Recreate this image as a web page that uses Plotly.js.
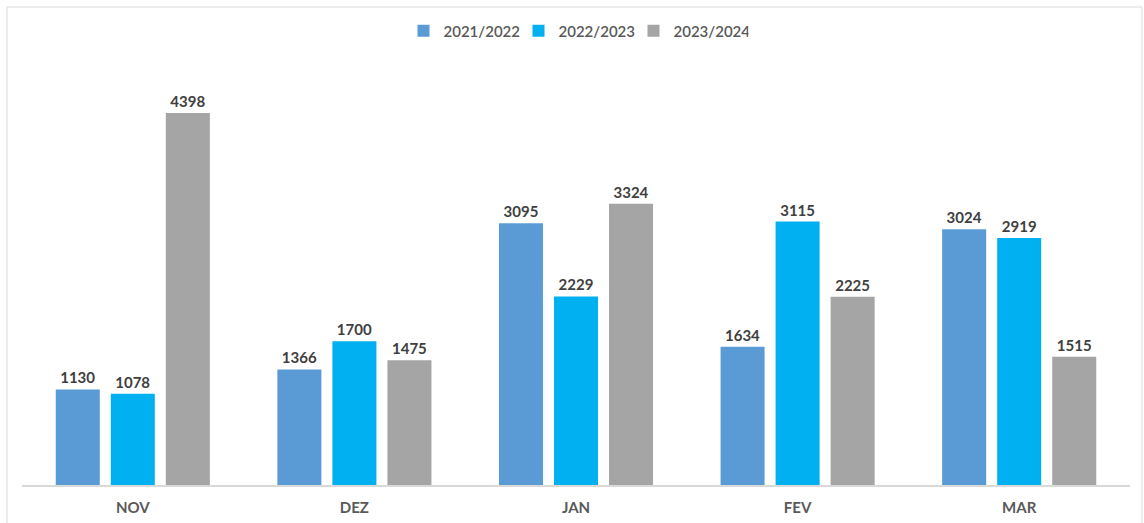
<!DOCTYPE html>
<html>
<head>
<meta charset="utf-8">
<script src="https://cdn.plot.ly/plotly-3.0.1.min.js"></script>
<style>
html,body{margin:0;padding:0;background:#fff;}
#chart{width:1144px;height:523px;}
</style>
</head>
<body>
<div id="chart"></div>
<script>
const months = ["NOV", "DEZ", "JAN", "FEV", "MAR"];
const seriesNames = ["2021/2022", "2022/2023", "2023/2024"];
const s2122 = [1130, 1366, 3095, 1634, 3024];
const s2223 = [1078, 1700, 2229, 3115, 2919];
const s2324 = [4398, 1475, 3324, 2225, 1515];
const colors = ["#5B9BD5", "#00B0F0", "#A5A5A5"];

const FONT = "Lato, 'Open Sans', 'Liberation Sans', sans-serif";
const allSeries = [s2122, s2223, s2324];

const traces = allSeries.map((vals, i) => ({
  type: "bar",
  name: seriesNames[i],
  x: months,
  y: vals,
  marker: {color: colors[i]},
  text: vals.map(String),
  textposition: "outside",
  cliponaxis: false,
  textfont: {family: FONT, size: 15, color: "#404040", weight: "bold"},
  hoverinfo: "x+y+name"
}));

const L = 22, R = 1130, T = 60, B = 485, W = 1144, H = 523;
const px = x => (x - L) / (R - L);
const py = y => (B - y) / (B - T);

Plotly.newPlot("chart", traces, {
  width: W, height: H,
  margin: {l: L, r: W - R, t: T, b: H - B, pad: 0},
  paper_bgcolor: "#ffffff",
  plot_bgcolor: "#ffffff",
  barmode: "group",
  bargap: 0.255,
  bargroupgap: 0.2,
  showlegend: true,
  legend: {
    orientation: "h",
    x: 0.5, xanchor: "center",
    y: py(31), yanchor: "middle",
    font: {family: FONT, size: 15, color: "#595959", weight: 600},
    itemwidth: 30,
    entrywidth: 70,
    entrywidthmode: "pixels",
    tracegroupgap: 0
  },
  xaxis: {
    type: "category",
    showgrid: false,
    showline: true,
    linecolor: "#D9D9D9",
    linewidth: 1.5,
    ticks: "",
    tickfont: {family: FONT, size: 15, color: "#595959", weight: "bold"},
    ticklabelstandoff: 8,
    fixedrange: true
  },
  yaxis: {
    range: [0, (B - T) / (372 / 4398)],
    visible: false,
    showgrid: false,
    zeroline: false,
    fixedrange: true
  },
  shapes: [{
    type: "rect",
    xref: "paper", yref: "paper",
    x0: px(7), x1: px(1142), y0: py(7), y1: py(530),
    line: {color: "#D9D9D9", width: 1},
    fillcolor: "rgba(0,0,0,0)",
    layer: "below"
  }]
}, {displayModeBar: false, staticPlot: true});
</script>
</body>
</html>
